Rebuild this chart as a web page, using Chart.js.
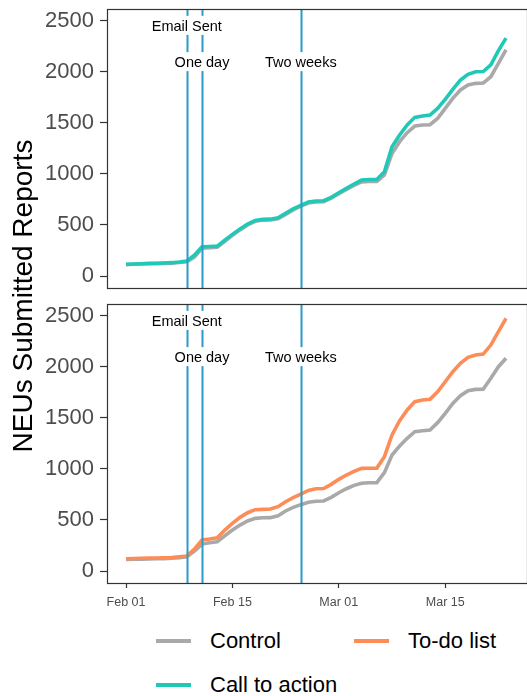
<!DOCTYPE html>
<html>
<head>
<meta charset="utf-8">
<script src="https://cdn.jsdelivr.net/npm/chart.js@4/dist/chart.umd.min.js"></script>
<style>
  body { margin: 0; background: #fff; font-family: "Liberation Sans", Arial, sans-serif; }
  #wrap { position: relative; width: 527px; height: 696px; overflow: hidden; }
  canvas { position: absolute; left: 0; }
  #ytitle { position: absolute; left: 23px; top: 296px; width: 400px; margin-left: -200px; margin-top: -14px;
            font-size: 28px; line-height: 28px; text-align: center; color: #000; transform: rotate(-90deg); white-space: nowrap; }
  .lg { position: absolute; font-size: 22px; line-height: 22px; color: #000; white-space: nowrap; }
  .sw { position: absolute; width: 35px; height: 4px; }
</style>
</head>
<body>
<div id="wrap">
  <canvas id="top" width="527" height="300" style="top:0"></canvas>
  <canvas id="bottom" width="527" height="325" style="top:295px"></canvas>
  <div id="ytitle">NEUs Submitted Reports</div>
  <div class="sw" style="left:156px;top:639px;background:#a9a9a9"></div>
  <div class="lg" style="left:210px;top:630px">Control</div>
  <div class="sw" style="left:354px;top:639px;background:#fc8d59"></div>
  <div class="lg" style="left:408px;top:630px">To-do list</div>
  <div class="sw" style="left:156px;top:683px;background:#20c9b7"></div>
  <div class="lg" style="left:210px;top:674px">Call to action</div>
</div>
<script>
// days since Feb 01, one value per day (Feb 01 - Mar 23)
var callToAction = [115, 118, 121, 124, 126, 128, 131, 137, 147, 205, 287, 290, 293, 352, 408, 460, 509, 545, 555, 557,
    571, 614, 659, 692, 725, 735, 738, 771, 816, 859, 901, 940, 946, 946, 1022, 1267, 1381, 1479, 1554, 1567,
    1577, 1642, 1730, 1828, 1920, 1975, 2001, 2003, 2067, 2207, 2330];
var controlTop = [112, 115, 118, 120, 122, 124, 127, 132, 140, 185, 272, 278, 282, 340, 398, 452, 500, 536, 548, 550,
    562, 604, 648, 684, 715, 725, 728, 762, 806, 848, 888, 922, 926, 926, 989, 1201, 1316, 1404, 1469, 1479,
    1482, 1544, 1642, 1740, 1822, 1871, 1887, 1890, 1952, 2083, 2216];
var todoList = [121, 123, 125, 127, 128, 130, 133, 140, 147, 215, 304, 313, 326, 401, 467, 526, 571, 601, 604, 607,
    630, 679, 718, 754, 790, 806, 808, 849, 898, 940, 976, 1005, 1006, 1008, 1120, 1332, 1472, 1577, 1659, 1675,
    1681, 1756, 1854, 1952, 2034, 2093, 2116, 2125, 2213, 2344, 2475];
var controlBottom = [113, 115, 117, 119, 120, 122, 125, 131, 140, 196, 264, 277, 287, 346, 401, 450, 490, 516, 522, 523,
    542, 588, 624, 650, 673, 683, 686, 722, 767, 806, 839, 859, 865, 866, 963, 1136, 1224, 1300, 1364, 1374,
    1381, 1453, 1544, 1642, 1717, 1766, 1779, 1780, 1887, 2001, 2083];

var tickDays = [0, 14, 28, 42];
var tickLabels = ["Feb 01", "Feb 15", "Mar 01", "Mar 15"];
var yTicks = [0, 500, 1000, 1500, 2000, 2500];

var eventDays = [8, 10, 23];
var eventNames = ["Email Sent", "One day", "Two weeks"];
var eventLabelY = [2440, 2085, 2085];

var FONT = "'Liberation Sans', Arial, sans-serif";

function toXY(arr) {
    return arr.map(function (v, i) { return { x: i, y: v }; });
}

var panelPlugin = {
    id: 'panel',
    afterDatasetsDraw: function (chart) {
        var ctx = chart.ctx, a = chart.chartArea;
        var xs = chart.scales.x, ys = chart.scales.y;
        ctx.save();
        // event lines
        ctx.strokeStyle = '#2b9bc8';
        ctx.lineWidth = 2;
        eventDays.forEach(function (d) {
            var px = Math.round(xs.getPixelForValue(d)) + 0.5;
            ctx.beginPath();
            ctx.moveTo(px, a.top);
            ctx.lineTo(px, a.bottom);
            ctx.stroke();
        });
        // labels with white boxes
        ctx.font = '14.5px ' + FONT;
        ctx.textAlign = 'center';
        ctx.textBaseline = 'middle';
        eventNames.forEach(function (name, i) {
            var px = xs.getPixelForValue(eventDays[i]);
            var py = ys.getPixelForValue(eventLabelY[i]);
            var w = ctx.measureText(name).width + 6;
            ctx.fillStyle = '#fff';
            ctx.fillRect(px - w / 2, py - 11, w, 19);
            ctx.fillStyle = '#000';
            ctx.fillText(name, px, py);
        });
        // panel border
        ctx.strokeStyle = '#333';
        ctx.lineWidth = 1.2;
        ctx.strokeRect(a.left + 0.5, a.top + 0.5, a.right - a.left, a.bottom - a.top);
        ctx.restore();
    }
};

function makeChart(id, sets, showX) {
    var ctx = document.getElementById(id).getContext('2d');
    return new Chart(ctx, {
        type: 'line',
        data: {
            datasets: sets.map(function (s) {
                return {
                    label: s.label,
                    data: toXY(s.values),
                    borderColor: s.color,
                    borderWidth: 3.6,
                    pointRadius: 0,
                    tension: 0,
                    fill: false
                };
            })
        },
        options: {
            responsive: false,
            animation: false,
            devicePixelRatio: 1,
            layout: { padding: { top: 9, bottom: showX ? 0 : 12, left: 0, right: 0 } },
            plugins: { legend: { display: false }, tooltip: { enabled: false } },
            scales: {
                x: {
                    type: 'linear',
                    display: showX,
                    min: -2.5,
                    max: 52.76,
                    afterBuildTicks: function (s) { s.ticks = tickDays.map(function (v) { return { value: v }; }); },
                    afterFit: function (s) {
                        s.height = showX ? 37 : 0;
                        s.paddingLeft = 0;
                        s.paddingRight = 0;
                    },
                    border: { display: false },
                    grid: { drawOnChartArea: false, drawTicks: true, tickLength: 5, tickColor: '#333', tickWidth: 1.2 },
                    ticks: {
                        autoSkip: false, maxRotation: 0, padding: 7, color: '#4d4d4d',
                        font: { size: 12.5, family: FONT },
                        callback: function (v) { var k = tickDays.indexOf(v); return k < 0 ? '' : tickLabels[k]; }
                    }
                },
                y: {
                    min: -117,
                    max: 2615,
                    afterBuildTicks: function (s) { s.ticks = yTicks.map(function (v) { return { value: v }; }); },
                    afterFit: function (s) { s.width = 107; s.paddingTop = 0; s.paddingBottom = 0; },
                    border: { display: false },
                    grid: { drawOnChartArea: false, drawTicks: true, tickLength: 7, tickColor: '#333', tickWidth: 1.2 },
                    ticks: {
                        padding: 6, color: '#4d4d4d', font: { size: 22, family: FONT },
                        callback: function (v) { return String(v); }
                    }
                }
            }
        },
        plugins: [panelPlugin]
    });
}

makeChart('top', [
    { label: 'Call to action', values: callToAction, color: '#20c9b7' },
    { label: 'Control', values: controlTop, color: '#a9a9a9' }
], false);

makeChart('bottom', [
    { label: 'To-do list', values: todoList, color: '#fc8d59' },
    { label: 'Control', values: controlBottom, color: '#a9a9a9' }
], true);
</script>
</body>
</html>
